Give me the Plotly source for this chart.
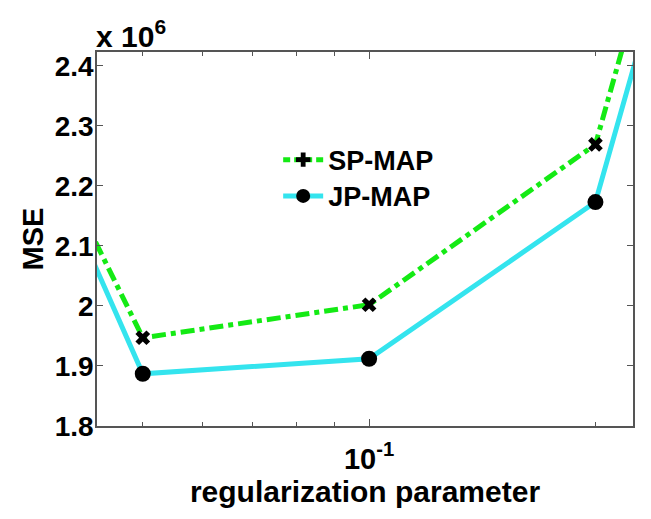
import plotly.graph_objects as go

# Data (MSE values, regularization parameter on log axis)
reg_param = [0.04, 0.05, 0.1, 0.2, 0.25]
sp_map = [2.193e6, 1.947e6, 2.002e6, 2.269e6, 2.700e6]
jp_map = [2.162e6, 1.887e6, 1.912e6, 2.173e6, 2.601e6]

y_tick_vals = [1.8e6, 1.9e6, 2.0e6, 2.1e6, 2.2e6, 2.3e6, 2.4e6]
y_tick_labels = ["1.8", "1.9", "2", "2.1", "2.2", "2.3", "2.4"]
x_tick_vals = [0.1]
x_tick_labels = ["10<sup>-1</sup>"]
x_minor_vals = [0.05, 0.06, 0.07, 0.08, 0.09, 0.2]

GREEN = "#14ea14"
CYAN = "#34e4ee"
AX = "#555555"
FONT = "Liberation Sans, Arial, sans-serif"

fig = go.Figure()

fig.add_trace(go.Scatter(
    x=reg_param, y=sp_map, mode="lines+markers", showlegend=False,
    line=dict(color=GREEN, width=5, dash="14px,5px,5px,5px"),
    marker=dict(symbol="x", size=13, color="black"),
))
fig.add_trace(go.Scatter(
    x=reg_param, y=jp_map, mode="lines+markers", showlegend=False,
    line=dict(color=CYAN, width=5),
    marker=dict(symbol="circle", size=16, color="black"),
))
# legend entries
fig.add_trace(go.Scatter(
    x=[None], y=[None], mode="lines+markers", name="SP-MAP", legend="legend",
    line=dict(color=GREEN, width=5, dash="7px,4px"),
    marker=dict(symbol="cross", size=12, color="black"),
))
fig.add_trace(go.Scatter(
    x=[None], y=[None], mode="lines+markers", name="JP-MAP", legend="legend2",
    line=dict(color=CYAN, width=5),
    marker=dict(symbol="circle", size=14, color="black"),
))

leg_common = dict(xanchor="left", yanchor="middle", bgcolor="rgba(0,0,0,0)",
                  borderwidth=0, font=dict(size=27, weight="bold"),
                  itemwidth=40)

fig.update_layout(
    width=642, height=510,
    margin=dict(l=89, r=17, t=44, b=91.5),
    paper_bgcolor="white", plot_bgcolor="white",
    font=dict(family=FONT, size=26, color="black", weight="bold"),
    legend=dict(x=0.338, y=0.711, **leg_common),
    legend2=dict(x=0.338, y=0.614, **leg_common),
    annotations=[dict(
        text="x 10<sup>6</sup>", xref="paper", yref="paper", x=0, y=1,
        xanchor="left", yanchor="bottom", showarrow=False,
        font=dict(size=30, weight="bold"), xshift=-3, yshift=-3,
    )],
)

fig.update_xaxes(
    type="log", range=[-1.3619, -0.649],
    tickvals=x_tick_vals, ticktext=x_tick_labels,
    ticks="inside", ticklen=7, tickcolor=AX, tickwidth=1,
    showline=True, linecolor=AX, linewidth=1.5, mirror="ticks",
    showgrid=False, zeroline=False,
    minor=dict(tickvals=x_minor_vals, ticks="inside", ticklen=4,
               tickcolor=AX, showgrid=False),
    tickfont=dict(size=29, weight="bold"), ticklabelstandoff=6,
    title=dict(text="regularization parameter", standoff=5,
               font=dict(size=30, weight="bold")),
)
fig.update_yaxes(
    range=[1.8e6, 2.423e6],
    tickvals=y_tick_vals, ticktext=y_tick_labels,
    ticks="inside", ticklen=6, tickcolor=AX, tickwidth=1,
    showline=True, linecolor=AX, linewidth=1.5, mirror="ticks",
    showgrid=False, zeroline=False,
    tickfont=dict(size=28, weight="bold"), ticklabelstandoff=-4,
    title=dict(text="MSE", standoff=3, font=dict(size=29, weight="bold")),
)

fig.write_html("out.html")
